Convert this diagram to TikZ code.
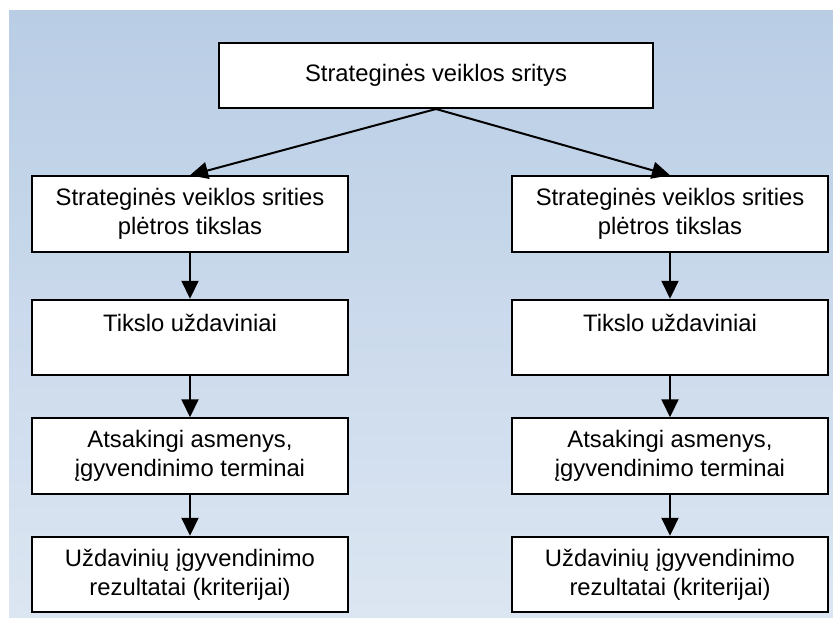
\documentclass[tikz,border=0pt]{standalone}
\usepackage{fontspec}
\setmainfont{Liberation Sans}
\usepackage{tikz}
\usetikzlibrary{arrows.meta, positioning}

\definecolor{skytop}{HTML}{B9CDE5}
\definecolor{skybottom}{HTML}{DCE6F2}

\begin{document}
\begin{tikzpicture}[
    x=1pt, y=1pt,
    >={Triangle[width=8.5pt, length=9pt]},
    areanode/.style={draw, rectangle, fill=white, line width=1pt, minimum width=217pt, minimum height=32.5pt, inner sep=2pt, align=center, font=\fontsize{11.9}{14.5}\selectfont},
    stepnode/.style={areanode, minimum width=158pt, minimum height=37.75pt},
    flow/.style={->, line width=1pt, black}
]
    \useasboundingbox (0,0) rectangle (416.5,-308.5);
    \fill[top color=skytop, bottom color=skybottom] (4.5,-5) rectangle (416.5,-308.5);

    \node[areanode] (Areas)   at (218,-37.75) {Strateginės veiklos sritys};

    \node[stepnode] (LGoal)   at (95,-107) {Strateginės veiklos srities\\plėtros tikslas};
    \node[stepnode] (LTask)   [below=23pt of LGoal] {Tikslo uždaviniai\\\mbox{}};
    \node[stepnode] (LResp)   [below=20.5pt of LTask] {Atsakingi asmenys,\\įgyvendinimo terminai};
    \node[stepnode] (LResult) [below=20.5pt of LResp] {Uždavinių įgyvendinimo\\rezultatai (kriterijai)};

    \node[stepnode] (RGoal)   [right=81pt of LGoal] {Strateginės veiklos srities\\plėtros tikslas};
    \node[stepnode] (RTask)   [below=23pt of RGoal] {Tikslo uždaviniai\\\mbox{}};
    \node[stepnode] (RResp)   [below=20.5pt of RTask] {Atsakingi asmenys,\\įgyvendinimo terminai};
    \node[stepnode] (RResult) [below=20.5pt of RResp] {Uždavinių įgyvendinimo\\rezultatai (kriterijai)};

    \draw[flow] (Areas.south) -- (LGoal.north);
    \draw[flow] (Areas.south) -- (RGoal.north);
    \draw[flow] (LGoal) -- (LTask);
    \draw[flow] (LTask) -- (LResp);
    \draw[flow] (LResp) -- (LResult);
    \draw[flow] (RGoal) -- (RTask);
    \draw[flow] (RTask) -- (RResp);
    \draw[flow] (RResp) -- (RResult);

\end{tikzpicture}
\end{document}
